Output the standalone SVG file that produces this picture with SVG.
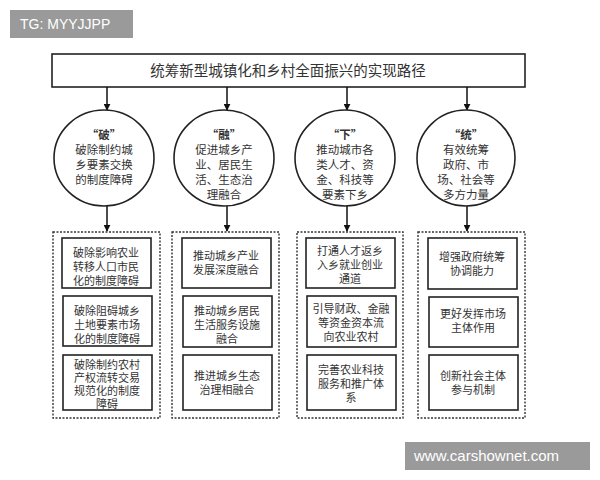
<svg xmlns="http://www.w3.org/2000/svg" width="600" height="480" viewBox="0 0 600 480">
<defs>
<marker id="ah" viewBox="0 0 10 10" refX="9" refY="5" markerWidth="7" markerHeight="7" markerUnits="userSpaceOnUse" orient="auto"><path d="M0,0L10,5L0,10z" fill="#111"/></marker>
<style>
.t{font-family:"Noto Sans CJK SC","Liberation Serif",serif;fill:#333;text-anchor:middle;font-size:11.5px}
.s{font-size:11px}
.b{stroke:#222;stroke-width:1.6;fill:#fff}
.d{stroke:#333;stroke-width:1.4;fill:none;stroke-dasharray:2 1.5}
.c{stroke:#111;stroke-width:1.5;fill:none;marker-end:url(#ah)}
.w{font-family:"Liberation Sans",sans-serif;fill:#fff;font-size:14px}
</style>
</defs>
<rect width="600" height="480" fill="#fff"/>
<g id="title"><rect class="b" x="52" y="54" width="473" height="33"/><text class="t" x="288" y="76" style="font-size:14.5px">统筹新型城镇化和乡村全面振兴的实现路径</text></g>
<g id="connectors">
<line class="c" x1="107" y1="87" x2="107" y2="110"/><line class="c" x1="227" y1="87" x2="227" y2="110"/><line class="c" x1="347" y1="87" x2="347" y2="110"/><line class="c" x1="467" y1="87" x2="467" y2="110"/>
<line class="c" x1="107" y1="205" x2="107" y2="231"/><line class="c" x1="227" y1="205" x2="227" y2="231"/><line class="c" x1="347" y1="205" x2="347" y2="231"/><line class="c" x1="467" y1="205" x2="467" y2="231"/>
</g>
<g id="c1"><ellipse class="b" cx="104" cy="158" rx="50" ry="48"/><text class="t"><tspan x="104" y="139" font-weight="bold">“破”</tspan><tspan x="104" y="154">破除制约城</tspan><tspan x="104" y="169">乡要素交换</tspan><tspan x="104" y="184">的制度障碍</tspan></text></g>
<g id="c2"><ellipse class="b" cx="224" cy="158" rx="50" ry="48"/><text class="t"><tspan x="224" y="139" font-weight="bold">“融”</tspan><tspan x="224" y="154">促进城乡产</tspan><tspan x="224" y="169">业、居民生</tspan><tspan x="224" y="184">活、生态治</tspan><tspan x="224" y="199">理融合</tspan></text></g>
<g id="c3"><ellipse class="b" cx="345" cy="158" rx="50" ry="48"/><text class="t"><tspan x="345" y="139" font-weight="bold">“下”</tspan><tspan x="345" y="154">推动城市各</tspan><tspan x="345" y="169">类人才、资</tspan><tspan x="345" y="184">金、科技等</tspan><tspan x="345" y="199">要素下乡</tspan></text></g>
<g id="c4"><ellipse class="b" cx="466" cy="158" rx="49" ry="48"/><text class="t"><tspan x="466" y="139" font-weight="bold">“统”</tspan><tspan x="466" y="154">有效统筹</tspan><tspan x="466" y="169">政府、市</tspan><tspan x="466" y="184">场、社会等</tspan><tspan x="466" y="199">多方力量</tspan></text></g>
<g id="g1"><rect class="d" x="53" y="232" width="107" height="186"/>
<rect class="b" x="62" y="238" width="89" height="50"/><text class="t s"><tspan x="106" y="257">破除影响农业</tspan><tspan x="106" y="271">转移人口市民</tspan><tspan x="106" y="285">化的制度障碍</tspan></text>
<rect class="b" x="63" y="296" width="89" height="50"/><text class="t s"><tspan x="107" y="315">破除阻碍城乡</tspan><tspan x="107" y="329">土地要素市场</tspan><tspan x="107" y="343">化的制度障碍</tspan></text>
<rect class="b" x="63" y="355" width="89" height="55"/><text class="t s"><tspan x="107" y="369">破除制约农村</tspan><tspan x="107" y="382">产权流转交易</tspan><tspan x="107" y="395">规范化的制度</tspan><tspan x="107" y="408">障碍</tspan></text></g>
<g id="g2"><rect class="d" x="172" y="232" width="107" height="186"/>
<rect class="b" x="182" y="238" width="89" height="50"/><text class="t s"><tspan x="226" y="260">推动城乡产业</tspan><tspan x="226" y="274">发展深度融合</tspan></text>
<rect class="b" x="183" y="296" width="89" height="51"/><text class="t s"><tspan x="227" y="315">推动城乡居民</tspan><tspan x="227" y="329">生活服务设施</tspan><tspan x="227" y="343">融合</tspan></text>
<rect class="b" x="183" y="355" width="89" height="55"/><text class="t s"><tspan x="227" y="380">推进城乡生态</tspan><tspan x="227" y="394">治理相融合</tspan></text></g>
<g id="g3"><rect class="d" x="297" y="232" width="106" height="186"/>
<rect class="b" x="306" y="238" width="89" height="50"/><text class="t s"><tspan x="350" y="255">打通人才返乡</tspan><tspan x="350" y="269">入乡就业创业</tspan><tspan x="350" y="283">通道</tspan></text>
<rect class="b" x="307" y="296" width="89" height="51"/><text class="t s"><tspan x="351" y="313">引导财政、金融</tspan><tspan x="351" y="327">等资金资本流</tspan><tspan x="351" y="341">向农业农村</tspan></text>
<rect class="b" x="307" y="355" width="89" height="55"/><text class="t s"><tspan x="351" y="374">完善农业科技</tspan><tspan x="351" y="388">服务和推广体</tspan><tspan x="351" y="402">系</tspan></text></g>
<g id="g4"><rect class="d" x="418" y="232" width="107" height="186"/>
<rect class="b" x="428" y="238" width="89" height="51"/><text class="t s"><tspan x="472" y="261">增强政府统筹</tspan><tspan x="472" y="275">协调能力</tspan></text>
<rect class="b" x="429" y="297" width="89" height="50"/><text class="t s"><tspan x="473" y="318">更好发挥市场</tspan><tspan x="473" y="332">主体作用</tspan></text>
<rect class="b" x="429" y="355" width="89" height="55"/><text class="t s"><tspan x="473" y="380">创新社会主体</tspan><tspan x="473" y="394">参与机制</tspan></text></g>
<g id="wm"><rect x="10" y="10" width="123" height="28" fill="#9a9a9a"/><text class="w" x="20" y="29">TG: MYYJJPP</text>
<rect x="405" y="442" width="185" height="28" fill="#9a9a9a"/><text class="w" x="414" y="461" style="font-size:15px">www.carshownet.com</text></g>
</svg>
